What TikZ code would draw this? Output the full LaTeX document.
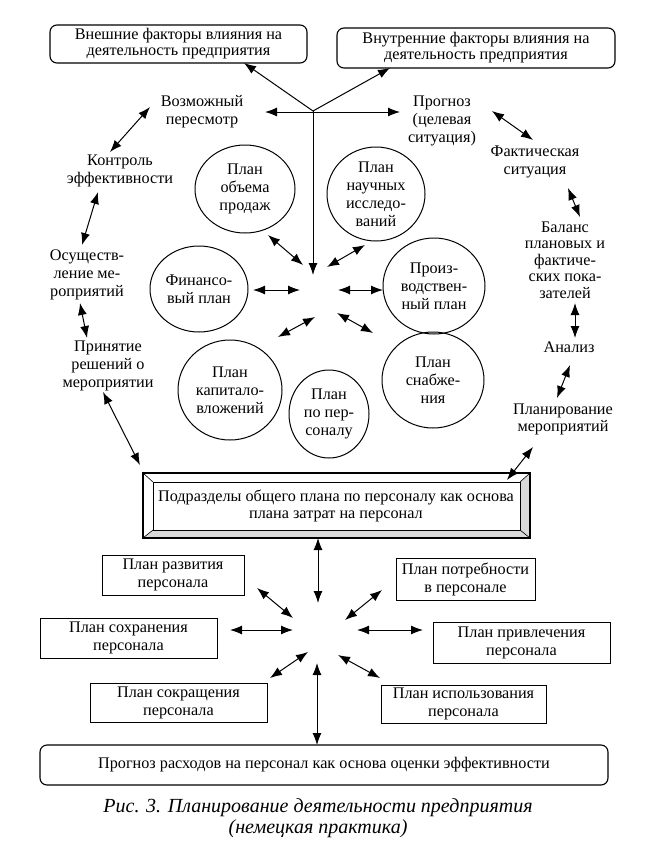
\documentclass[tikz,border=0pt]{standalone}
\usepackage{fontspec}
\setmainfont{Liberation Serif}
\usetikzlibrary{arrows.meta}

\begin{document}
\begin{tikzpicture}[x=1pt,y=1pt,yscale=-1,xscale=1,
  lbl/.style={inner sep=0.75pt, align=center, font=\fontsize{16.2}{18}\selectfont},
  dbl/.style={{Latex[length=12pt,width=9pt]}-{Latex[length=12pt,width=9pt]}, line width=1pt},
  sgl/.style={-{Latex[length=12pt,width=9pt]}, line width=1pt},
  rbox/.style={lbl, draw, line width=1.1pt, rounded corners=7pt},
  pbox/.style={lbl, draw, line width=0.9pt},
  oval/.style={line width=1pt}]
\useasboundingbox (0,0) rectangle (651,857);

%Shape: Rounded boxes [top]
\draw (178.5,44) node[rbox, minimum width=257, minimum height=38, font=\fontsize{16.2}{16}\selectfont] (ext) {Внешние факторы влияния на\\деятельность предприятия};
\draw (476,48) node[rbox, minimum width=278, minimum height=40, font=\fontsize{16.2}{16}\selectfont] (int) {Внутренние факторы влияния на\\деятельность предприятия};

% Text Node
\draw (202,112) node[lbl] (vozm) {Возможный\\пересмотр};
% Text Node
\draw (442,121) node[lbl] (progz) {Прогноз\\(целевая\\ситуация)};
% Text Node
\draw (120,171) node[lbl] (kontr) {Контроль\\эффективности};
% Text Node
\draw (87,275) node[lbl] (osush) {Осуществ-\\ление ме-\\роприятий};
% Text Node
\draw (108,366) node[lbl] (prin) {Принятие\\решений о\\мероприятии};
% Text Node
\draw (535,162) node[lbl] (fakt) {Фактическая\\ситуация};
% Text Node
\draw (565,260) node[lbl, font=\fontsize{16.2}{16.5}\selectfont] (bal) {Баланс\\плановых и\\фактиче-\\ских пока-\\зателей};
% Text Node
\draw (569,347) node[lbl] (anal) {Анализ};
% Text Node
\draw (563,419) node[lbl, font=\fontsize{16.2}{17}\selectfont] (planm) {Планирование\\мероприятий};

%Shape: Ellipses [plans]
\draw (245,189) node[lbl] (obm) {План\\объема\\продаж};
\draw[oval] (obm.center) ellipse [x radius=50, y radius=44];
\draw (376,194) node[lbl] (nauch) {План\\научных\\исследо-\\ваний};
\draw[oval] (nauch.center) ellipse [x radius=49, y radius=47];
\draw (199,289) node[lbl] (fin) {Финансо-\\вый план};
\draw[oval] (fin.center) ellipse [x radius=49, y radius=43];
\draw (434,286) node[lbl] (proizv) {Произ-\\водствен-\\ный план};
\draw[oval] (proizv.center) ellipse [x radius=51, y radius=48];
\draw (230,390) node[lbl] (kap) {План\\капитало-\\вложений};
\draw[oval] (kap.center) ellipse [x radius=52, y radius=50];
\draw (329,414) node[lbl] (pers) {План\\по пер-\\соналу};
\draw[oval] (pers.center) ellipse [x radius=40, y radius=44];
\draw (433,380) node[lbl] (snab) {План\\снабже-\\ния};
\draw[oval] (snab.center) ellipse [x radius=51, y radius=48];

%Coordinates [arrow ends]
\coordinate (jn) at (313,111);
\coordinate (extin) at (244,63);
\coordinate (intin) at (390,68);
\coordinate (hl) at (265,112);
\coordinate (hr) at (400,112);
\coordinate (hub) at (313,275);
\coordinate (l1a) at (150,107); \coordinate (l1b) at (110,152);
\coordinate (l2a) at (98,192);  \coordinate (l2b) at (82,245);
\coordinate (l3a) at (80,303);  \coordinate (l3b) at (87,338);
\coordinate (l4a) at (103,392); \coordinate (l4b) at (140,465);
\coordinate (r1a) at (492,111); \coordinate (r1b) at (533,140);
\coordinate (r2a) at (568,188); \coordinate (r2b) at (580,217);
\coordinate (r3a) at (575,303); \coordinate (r3b) at (575,338);
\coordinate (r4a) at (570,365); \coordinate (r4b) at (557,398);
\coordinate (r5a) at (533,447); \coordinate (r5b) at (507,480);
\coordinate (s1a) at (268,235); \coordinate (s1b) at (303,265);
\coordinate (s2a) at (365,245); \coordinate (s2b) at (327,267);
\coordinate (s3a) at (253,290); \coordinate (s3b) at (300,290);
\coordinate (s4a) at (338,290); \coordinate (s4b) at (383,290);
\coordinate (s5a) at (278,337); \coordinate (s5b) at (315,317);
\coordinate (s6a) at (337,313); \coordinate (s6b) at (373,333);

%Straight Lines [top]
\draw[sgl] (jn) -- (extin);
\draw[sgl] (jn) -- (intin);
\draw[dbl] (hl) -- (hr);
\draw[sgl] (jn) -- (hub);

%Straight Lines [left and right chains]
\draw[dbl] (l1a) -- (l1b);
\draw[dbl] (l2a) -- (l2b);
\draw[dbl] (l3a) -- (l3b);
\draw[dbl] (l4a) -- (l4b);
\draw[dbl] (r1a) -- (r1b);
\draw[dbl] (r2a) -- (r2b);
\draw[dbl] (r3a) -- (r3b);
\draw[dbl] (r4a) -- (r4b);
\draw[dbl] (r5a) -- (r5b);

%Straight Lines [plans]
\draw[dbl] (s1a) -- (s1b);
\draw[dbl] (s2a) -- (s2b);
\draw[dbl] (s3a) -- (s3b);
\draw[dbl] (s4a) -- (s4b);
\draw[dbl] (s5a) -- (s5b);
\draw[dbl] (s6a) -- (s6b);

%Shape: Frame [middle]
\fill[gray!30] (530,473) -- (520,482) -- (520,530) -- (153,530) -- (143,538) -- (530,538) -- cycle;
\draw[line width=1.1pt] (143,473) rectangle (530,538);
\draw[line width=0.7pt] (153,482) rectangle (520,530);
\draw[line width=0.6pt] (143,473) -- (153,482) (530,473) -- (520,482) (143,538) -- (153,530) (530,538) -- (520,530);
\draw (336,506) node[lbl, font=\fontsize{16.2}{17}\selectfont] (frame) {Подразделы общего плана по персоналу как основа\\плана затрат на персонал};

%Shape: Boxes [bottom]
\draw (173,575) node[pbox, minimum width=142, minimum height=40] (razv) {План развития\\персонала};
\draw (465.5,579) node[pbox, minimum width=139, minimum height=42] (potr) {План потребности\\в персонале};
\draw (128.5,638) node[pbox, minimum width=177, minimum height=40] (sohr) {План сохранения\\персонала};
\draw (521.5,642.5) node[pbox, minimum width=177, minimum height=41] (privl) {План привлечения\\персонала};
\draw (178.5,702.5) node[pbox, minimum width=177, minimum height=39] (sokr) {План сокращения\\персонала};
\draw (463.5,704) node[pbox, minimum width=165, minimum height=38] (ispl) {План использования\\персонала};
\draw (324,765) node[rbox, minimum width=568, minimum height=40] (rash) {Прогноз расходов на персонал как основа оценки эффективности};

%Coordinates [bottom arrow ends]
\coordinate (b0a) at (318,538); \coordinate (b0b) at (318,603);
\coordinate (b1a) at (257,588); \coordinate (b1b) at (293,618);
\coordinate (b2a) at (382,590); \coordinate (b2b) at (345,620);
\coordinate (b3a) at (230,630); \coordinate (b3b) at (293,630);
\coordinate (b4a) at (357,630); \coordinate (b4b) at (423,630);
\coordinate (b5a) at (270,678); \coordinate (b5b) at (308,652);
\coordinate (b6a) at (338,655); \coordinate (b6b) at (380,678);
\coordinate (b7a) at (317,663); \coordinate (b7b) at (317,745);

%Straight Lines [bottom]
\draw[dbl] (b0a) -- (b0b);
\draw[dbl] (b1a) -- (b1b);
\draw[dbl] (b2a) -- (b2b);
\draw[dbl] (b3a) -- (b3b);
\draw[dbl] (b4a) -- (b4b);
\draw[dbl] (b5a) -- (b5b);
\draw[dbl] (b6a) -- (b6b);
\draw[dbl] (b7a) -- (b7b);

% Text Node [caption]
\draw (318,818) node[lbl, font=\fontsize{20}{21}\selectfont\itshape] (cap) {Рис. 3. Планирование деятельности предприятия\\(немецкая практика)};

\end{tikzpicture}
\end{document}
